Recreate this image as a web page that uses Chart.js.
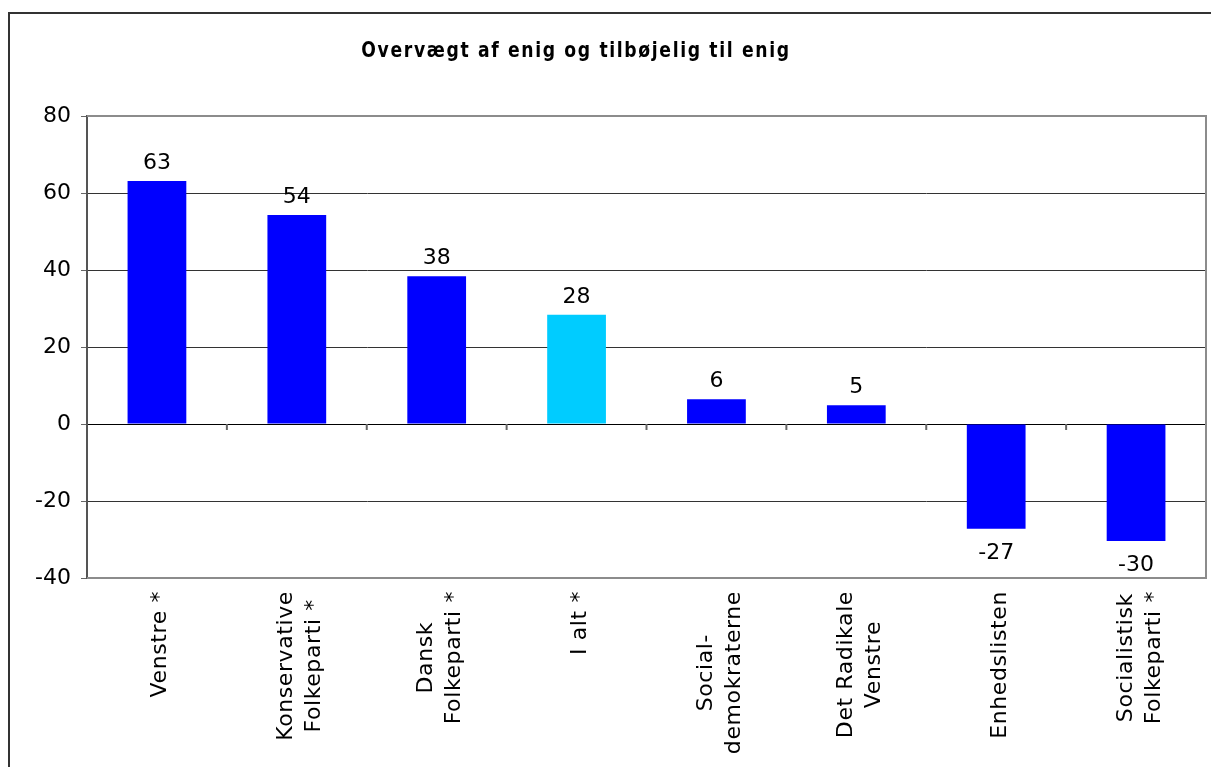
<!DOCTYPE html>
<html>
<head>
<meta charset="utf-8">
<script src="https://cdn.jsdelivr.net/npm/chart.js@4/dist/chart.umd.min.js"></script>
<style>
  html, body { margin: 0; padding: 0; background: #fff; overflow: hidden; }
  #wrap { position: relative; width: 1211px; height: 767px; }
</style>
</head>
<body>
<div id="wrap"><canvas id="partyChart"></canvas></div>
<script>
const categories = [
    ['Venstre *'],
    ['Konservative', 'Folkeparti *'],
    ['Dansk', 'Folkeparti *'],
    ['I alt *'],
    ['Social-', 'demokraterne'],
    ['Det Radikale', 'Venstre'],
    ['Enhedslisten'],
    ['Socialistisk', 'Folkeparti *']
];
const values = [63.1, 54.3, 38.4, 28.4, 6.4, 4.9, -27.2, -30.4];
const barColors = ['#0000ff', '#0000ff', '#0000ff', '#00ccff', '#0000ff', '#0000ff', '#0000ff', '#0000ff'];
const yTicks = [80, 60, 40, 20, 0, -20, -40];
const chartTitle = 'Overvægt af enig og tilbøjelig til enig';

const FONT = '"DejaVu Sans", Verdana, sans-serif';

// frame, title, value labels, category labels and the little ticks on the zero line
const extras = {
    id: 'extras',
    afterDraw(chart) {
        const ctx = chart.ctx;
        const area = chart.chartArea;
        const x = chart.scales.x;
        const y = chart.scales.y;

        ctx.save();
        // outer box
        ctx.strokeStyle = '#333';
        ctx.lineWidth = 2;
        ctx.beginPath();
        ctx.moveTo(9, 767);
        ctx.lineTo(9, 13);
        ctx.lineTo(1211, 13);
        ctx.stroke();

        // plot frame (top, right, bottom)
        ctx.strokeStyle = '#8c8c8c';
        ctx.lineWidth = 2;
        ctx.beginPath();
        ctx.moveTo(area.left, area.top);
        ctx.lineTo(area.right, area.top);
        ctx.lineTo(area.right, area.bottom);
        ctx.lineTo(area.left, area.bottom);
        ctx.stroke();

        // category ticks at zero
        const y0 = y.getPixelForValue(0);
        ctx.strokeStyle = '#666';
        ctx.lineWidth = 2;
        ctx.beginPath();
        for (let i = 1; i < categories.length; i++) {
            const px = (x.getPixelForValue(i - 1) + x.getPixelForValue(i)) / 2;
            ctx.moveTo(px, y0);
            ctx.lineTo(px, y0 + 6);
        }
        ctx.stroke();

        // value labels
        ctx.fillStyle = '#000';
        ctx.font = '22px ' + FONT;
        ctx.textAlign = 'center';
        ctx.textBaseline = 'alphabetic';
        chart.getDatasetMeta(0).data.forEach((bar, i) => {
            const v = values[i];
            const txt = String(Math.round(v));
            if (v >= 0) ctx.fillText(txt, bar.x, bar.y - 12);
            else ctx.fillText(txt, bar.x, bar.y + 30);
        });

        // category labels, rotated, lines centred in their block
        ctx.letterSpacing = '0.6px';
        const top = area.bottom + 13;
        categories.forEach((lines, i) => {
            const cx = x.getPixelForValue(i);
            const w = Math.max(...lines.map(l => ctx.measureText(l).width));
            ctx.save();
            ctx.translate(cx, top + w / 2);
            ctx.rotate(-Math.PI / 2);
            lines.forEach((l, j) => {
                ctx.fillText(l, 0, 9.5 + (j - (lines.length - 1) / 2) * 28);
            });
            ctx.restore();
        });

        // title
        ctx.save();
        ctx.font = 'bold 21px ' + FONT;
        ctx.letterSpacing = '2px';
        ctx.scale(0.82, 1);
        ctx.fillText(chartTitle, 576 / 0.82, 56.5);
        ctx.restore();
        ctx.restore();
    }
};

const ctx = document.getElementById('partyChart').getContext('2d');

const partyChart = new Chart(ctx, {
    type: 'bar',
    data: {
        labels: categories.map(c => c.join(' ')),
        datasets: [{
            data: values,
            backgroundColor: barColors,
            borderWidth: 0,
            barPercentage: 0.42,
            categoryPercentage: 1.0
        }]
    },
    options: {
        responsive: true,
        maintainAspectRatio: false,
        animation: false,
        layout: { padding: { top: 116, right: 5, left: 0, bottom: 0 } },
        plugins: {
            legend: { display: false },
            title: { display: false },
            tooltip: { enabled: false }
        },
        scales: {
            x: {
                grid: { display: false, drawTicks: false },
                border: { display: false },
                ticks: { display: false },
                afterFit(scale) { scale.height = 189; }
            },
            y: {
                min: -40,
                max: 80,
                afterBuildTicks(scale) {
                    scale.ticks = yTicks.map(v => ({ value: v }));
                },
                grid: {
                    color: c => (c.tick.value === 80 || c.tick.value === -40) ? 'rgba(0,0,0,0)' : (c.tick.value === 0 ? '#000' : '#333'),
                    lineWidth: 1,
                    drawTicks: true,
                    tickLength: 6,
                    tickColor: '#666'
                },
                border: { color: '#555', width: 2 },
                ticks: {
                    color: '#000',
                    font: { family: FONT, size: 22 },
                    padding: 10
                },
                afterFit(scale) { scale.width = 87; }
            }
        }
    },
    plugins: [extras]
});
</script>
</body>
</html>
